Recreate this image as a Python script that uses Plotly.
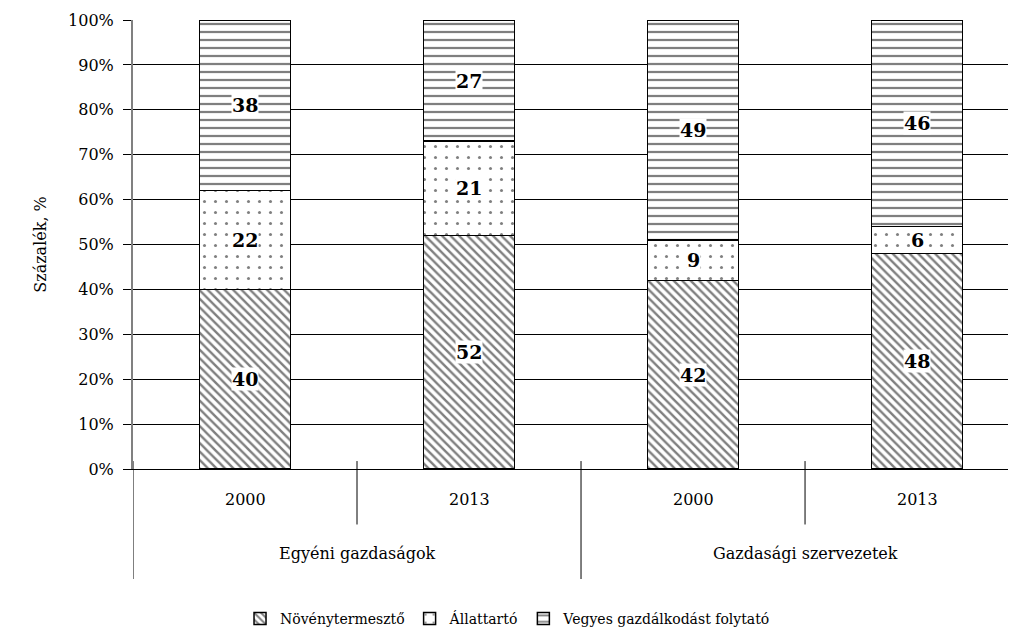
import plotly.graph_objects as go

groups = ["Egyéni gazdaságok", "Gazdasági szervezetek"]
years = ["2000", "2013", "2000", "2013"]
series_names = ["Növénytermesztő", "Állattartó", "Vegyes gazdálkodást folytató"]
noveny = [40, 52, 42, 48]
allat = [22, 21, 9, 6]
vegyes = [38, 27, 49, 46]
yticks = [0, 10, 20, 30, 40, 50, 60, 70, 80, 90, 100]
ytick_text = [f"{v}%" for v in yticks]

FONT = "DejaVu Serif"
xs = list(range(len(years)))
series = [noveny, allat, vegyes]
patterns = [
    dict(shape="\\", size=6, solidity=0.4, fgcolor="black", bgcolor="white"),
    dict(shape=".", size=11, solidity=0.06, fgcolor="black", bgcolor="white"),
    dict(shape="-", size=8, solidity=0.28, fgcolor="black", bgcolor="white"),
]

fig = go.Figure()
for name, vals, pat in zip(series_names, series, patterns):
    fig.add_trace(go.Bar(
        x=xs, y=vals, name=name, width=0.405,
        marker=dict(color="white", pattern=pat, line=dict(color="black", width=1.5)),
    ))

base = [0] * len(xs)
for vals in series:
    for i, v in enumerate(vals):
        fig.add_annotation(
            x=xs[i], y=base[i] + v / 2, text=f"<b>{v}</b>", showarrow=False,
            font=dict(family=FONT, size=19, color="black"),
            bgcolor="white", borderpad=0,
        )
        base[i] += v

for i, yr in enumerate(years):
    fig.add_annotation(x=xs[i], y=-0.0927, yref="paper", text=yr, showarrow=False,
                       font=dict(family=FONT, size=16, color="black"))
for g_i, g in enumerate(groups):
    fig.add_annotation(x=2 * g_i + 0.5, y=-0.214, yref="paper", text=g, showarrow=False,
                       font=dict(family=FONT, size=16, color="black"))

for xd in [0.5, 2.5]:
    fig.add_shape(type="line", xref="x", yref="paper", x0=xd, x1=xd, y0=0.0177, y1=-0.1236,
                  line=dict(color="black", width=1))
for xd in [-0.5, 1.5]:
    fig.add_shape(type="line", xref="x", yref="paper", x0=xd, x1=xd, y0=0.0177, y1=-0.245,
                  line=dict(color="black", width=1))

fig.add_annotation(x=-0.106, y=0.5, xref="paper", yref="paper", text="Százalék, %",
                   xanchor="center", yanchor="middle",
                   textangle=-90, showarrow=False, font=dict(family=FONT, size=16, color="black"))

fig.update_layout(
    barmode="stack",
    width=1000, height=627,
    margin=dict(l=125, r=0, t=12, b=162),
    paper_bgcolor="white", plot_bgcolor="white",
    font=dict(family=FONT, size=16, color="black"),
    showlegend=True,
    legend=dict(orientation="h", x=0.4286, xanchor="center", y=-0.3355, yanchor="middle",
                traceorder="normal", font=dict(family=FONT, size=14, color="black"),
                itemwidth=30, tracegroupgap=0),
    xaxis=dict(range=[-0.5, 3.406], showticklabels=False, ticks="", showgrid=False,
               zeroline=False, showline=True, linecolor="black", linewidth=1, automargin=False),
    yaxis=dict(range=[0, 100], tickmode="array", tickvals=yticks, ticktext=ytick_text,
               ticks="outside", ticklen=8, automargin=False, ticklabelstandoff=6,
               tickcolor="black", showgrid=True, gridcolor="black", gridwidth=1,
               zeroline=False, showline=True, linecolor="#808080", linewidth=2,
               tickfont=dict(family=FONT, size=16, color="black")),
)

fig.write_html("out.html")
